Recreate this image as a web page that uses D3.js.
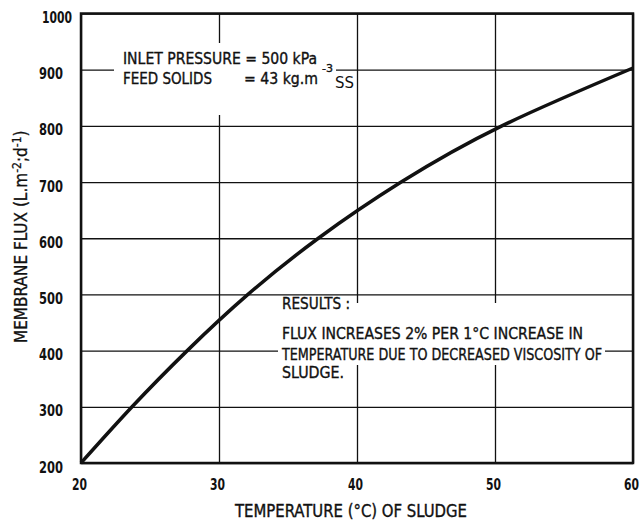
<!DOCTYPE html>
<html>
<head>
<meta charset="utf-8">
<script src="https://cdn.jsdelivr.net/npm/d3@7"></script>
<style>
  body { margin: 0; background: #fff; }
  svg text { font-family: "DejaVu Sans Condensed", "Liberation Sans Narrow", sans-serif; fill: #111; }
</style>
</head>
<body>
<figure id="chart" style="margin:0"></figure>
<script>
// temperature of sludge (°C) vs membrane flux (L.m-2.d-1)
const temps = [20, 23.7, 27.7, 32.1, 37.2, 43.2, 50.5, 60];
const flux  = [200, 300, 400, 500, 600, 700, 800, 903];
const xTicks = [20, 30, 40, 50, 60];
const yTicks = [200, 300, 400, 500, 600, 700, 800, 900, 1000];

const width = 643, height = 522;
const plotL = 81, plotR = 633, plotT = 13.5, plotB = 463;

const svg = d3.select("#chart")
  .append("svg")
  .attr("width", width)
  .attr("height", height);

const x = d3.scaleLinear().domain([20, 60]).range([plotL, plotR]);
const y = d3.scaleLinear().domain([200, 1000]).range([plotB, plotT]);

// grid lines via axes
const gx = svg.append("g")
  .attr("transform", "translate(0," + plotB + ")")
  .call(d3.axisBottom(x).tickValues(xTicks).tickSize(-(plotB - plotT)).tickFormat(d3.format("d")));
gx.select(".domain").remove();
gx.selectAll("line").attr("stroke", "#111").attr("stroke-width", 1.3);
gx.selectAll("text")
  .attr("y", 27).attr("dy", 0).attr("x", -2)
  .attr("font-size", 15).attr("font-weight", "bold")
  .attr("textLength", 15).attr("lengthAdjust", "spacingAndGlyphs");

const gy = svg.append("g")
  .attr("transform", "translate(" + plotL + ",0)")
  .call(d3.axisLeft(y).tickValues(yTicks).tickSize(-(plotR - plotL)).tickFormat(d3.format("d")));
gy.select(".domain").remove();
gy.selectAll("line").attr("stroke", "#111").attr("stroke-width", 1.3);
gy.selectAll("text")
  .attr("text-anchor", "start")
  .attr("x", d => d >= 1000 ? -39 : -42).attr("dy", 9)
  .attr("font-size", 15).attr("font-weight", "bold")
  .attr("textLength", d => d >= 1000 ? 30 : 24).attr("lengthAdjust", "spacingAndGlyphs");

// white-out behind the notes
svg.append("rect").attr("x", 114).attr("y", 43).attr("width", 222).attr("height", 72).attr("fill", "#fff");
svg.append("rect").attr("x", 278).attr("y", 303).attr("width", 327).attr("height", 62).attr("fill", "#fff");

// frame
svg.append("rect")
  .attr("x", plotL).attr("y", plotT)
  .attr("width", plotR - plotL).attr("height", plotB - plotT)
  .attr("fill", "none").attr("stroke", "#111").attr("stroke-width", 2.5);

// curve
const line = d3.line()
  .x((d, i) => x(temps[i]))
  .y(d => y(d))
  .curve(d3.curveNatural);

svg.append("path")
  .datum(flux)
  .attr("d", line)
  .attr("fill", "none")
  .attr("stroke", "#111")
  .attr("stroke-width", 3.5);

// notes
const note = svg.append("g").attr("font-size", 16).attr("stroke", "#111").attr("stroke-width", 0.35);
function put(t, px, py, w, size) {
  const el = note.append("text").attr("x", px).attr("y", py).text(t);
  if (w) el.attr("textLength", w).attr("lengthAdjust", "spacingAndGlyphs");
  if (size) el.attr("font-size", size);
  return el;
}
put("INLET PRESSURE = 500 kPa", 123, 64, 194);
put("FEED SOLIDS", 123, 84, 89);
put("= 43 kg.m", 244, 84, 74);
put("-3", 322, 72, 11, 11);
put("SS", 335, 88, 19, 15).attr("font-family", "Liberation Sans, sans-serif").attr("stroke-width", 0);

const res = ["RESULTS :",
  "FLUX INCREASES 2% PER 1°C INCREASE IN",
  "TEMPERATURE DUE TO DECREASED VISCOSITY OF",
  "SLUDGE."];
const resY = [309, 339, 360, 378];
const resW = [68, 301, 320, 62];
res.forEach((t, i) => put(t, 282, resY[i], resW[i]));

// axis titles
svg.append("text")
  .attr("x", 235).attr("y", 517)
  .attr("font-size", 17).attr("stroke", "#111").attr("stroke-width", 0.35)
  .attr("textLength", 232).attr("lengthAdjust", "spacingAndGlyphs")
  .text("TEMPERATURE (°C) OF SLUDGE");

const yl = svg.append("text")
  .attr("transform", "translate(27,343) rotate(-90)")
  .attr("font-size", 17).attr("stroke", "#111").attr("stroke-width", 0.3);
yl.append("tspan").text("MEMBRANE FLUX  (L.m");
yl.append("tspan").attr("dy", -6).attr("font-size", 12).text("-2");
yl.append("tspan").attr("dy", 6).text(";d");
yl.append("tspan").attr("dy", -6).attr("font-size", 12).text("-1");
yl.append("tspan").attr("dy", 6).text(")");
</script>
</body>
</html>
